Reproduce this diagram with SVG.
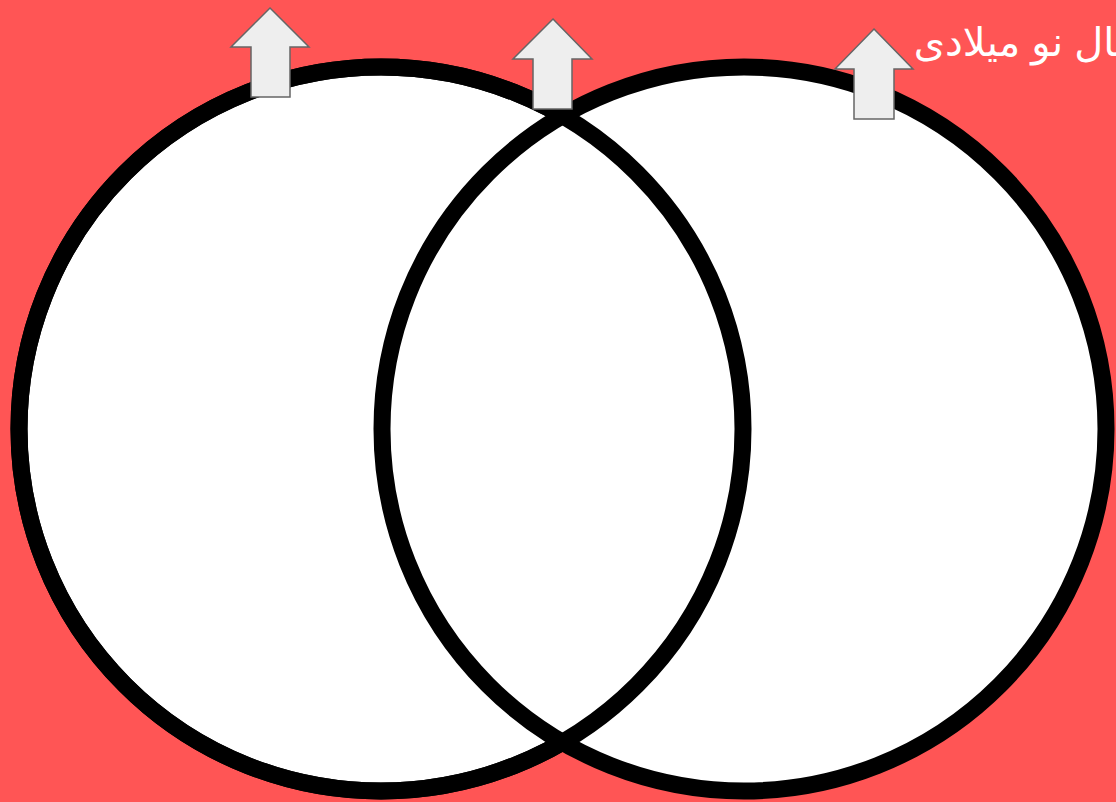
<svg xmlns="http://www.w3.org/2000/svg" width="1116" height="802" viewBox="0 0 1116 802">
<style>
.circle{fill:#FFFFFF;stroke:#000000;stroke-width:17}
.arrow{fill:#EEEEEE;stroke:#666666;stroke-width:1.5;stroke-linejoin:miter}
.label{fill:#FFFFFF;font-family:"Liberation Sans","DejaVu Sans",sans-serif;font-size:40px}
</style>
<rect x="0" y="0" width="1116" height="802" fill="#FF5555"/>
<g id="circle-left"><circle class="circle" cx="381" cy="429" r="362"/></g>
<g id="circle-right"><circle class="circle" cx="744" cy="429" r="362"/></g>
<g id="circle-left-outline"><circle cx="381" cy="429" r="362" fill="none" stroke="#000" stroke-width="17"/></g>
<g id="arrow-left"><polygon class="arrow" points="270,8 309,47 290,47 290,97 251,97 251,47 231,47"/></g>
<g id="arrow-middle"><polygon class="arrow" points="553,19 592,59 572,59 572,109 533,109 533,59 513,59"/></g>
<g id="arrow-right"><polygon class="arrow" points="874,29 913,69 894,69 894,119 854,119 854,69 835,69"/></g>
<g id="label-right"><text class="label" x="1149" y="56" direction="rtl" text-anchor="start">سال نو میلادی</text></g>
<g id="connectors"></g>
</svg>
